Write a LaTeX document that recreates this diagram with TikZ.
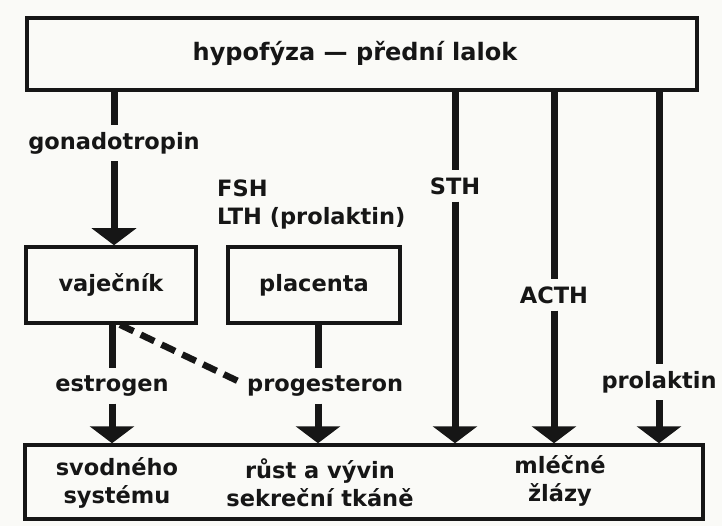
\documentclass[tikz,border=0pt]{standalone}
\usepackage{fontspec}
\setmainfont{DejaVu Sans}
\usetikzlibrary{arrows.meta}
\definecolor{bgc}{RGB}{250,250,247}
\definecolor{ink}{RGB}{22,22,22}
\tikzset{
  x=1pt,y=-1pt,
  every node/.style={font=\fontsize{22.5}{28}\selectfont\bfseries, text=ink},
  box/.style={draw=ink, line width=3.5pt, rectangle, inner sep=0pt},
  lbl/.style={inner xsep=3pt, inner ysep=7pt},
  arr/.style={draw=ink, line width=7pt, -{Triangle[width=44pt,length=17pt]}},
  seg/.style={draw=ink, line width=7pt},
  dsh/.style={draw=ink, line width=6.5pt, dash pattern=on 15pt off 8pt},
}
\begin{document}
\begin{tikzpicture}
\fill[bgc] (0,0) rectangle (722,526);
\useasboundingbox (0,0) rectangle (722,526);
% boxes
\node[box, minimum width=670, minimum height=72] (top) at (362,54) {};
\node[font=\fontsize{24}{28}\selectfont\bfseries] (title) at (355,53) {hypofýza — přední lalok};
\node[box, minimum width=170, minimum height=76] (vaj) at (111,285) {vaječník};
\node[box, minimum width=172, minimum height=76] (plac) at (314,285) {placenta};
\node[box, minimum width=678, minimum height=74] (bot) at (364,482) {};
\node[align=center] (t1) at (117,483) {svodného\\systému};
\node[align=center] (t2) at (320,483) {růst a vývin\\sekreční tkáně};
\node[align=center] (t3) at (560,481) {mléčné\\žlázy};
% labels
\node[lbl] (gon) at (114,143) {gonadotropin};
\node[anchor=west, inner sep=0pt] (fsh) at (217,188) {FSH};
\node[anchor=west, inner sep=0pt] (lth) at (217,218) {LTH (prolaktin)};
\node[lbl] (sth) at (455,186) {STH};
\node[lbl] (acth) at (554,295) {ACTH};
\node[lbl] (prl) at (659,382) {prolaktin};
\node[lbl] (est) at (112,386) {estrogen};
\node[lbl, anchor=west] (prog) at (244,386) {progesteron};
% connectors
\draw[seg] (top.south -| gon) -- (gon.north);
\draw[arr] (gon.south) -- (gon.south |- vaj.north);
\draw[seg] (top.south -| sth) -- (sth.north);
\draw[arr] (sth.south) -- (sth.south |- bot.north);
\draw[seg] (top.south -| acth) -- (acth.north);
\draw[arr] (acth.south) -- (acth.south |- bot.north);
\draw[seg] (top.south -| prl) -- (prl.north);
\draw[arr] (prl.south) -- (prl.south |- bot.north);
\draw[seg] (vaj.south -| est) -- (est.north);
\draw[arr] (est.south) -- (est.south |- bot.north);
\draw[seg] ([xshift=4]plac.south) -- ([xshift=4]plac.south |- prog.north);
\draw[arr] ([xshift=4]plac.south |- prog.south) -- ([xshift=4]plac.south |- bot.north);
\draw[dsh] ([xshift=9]vaj.south) -- ([xshift=-2,yshift=3]prog.west);
\end{tikzpicture}
\end{document}
